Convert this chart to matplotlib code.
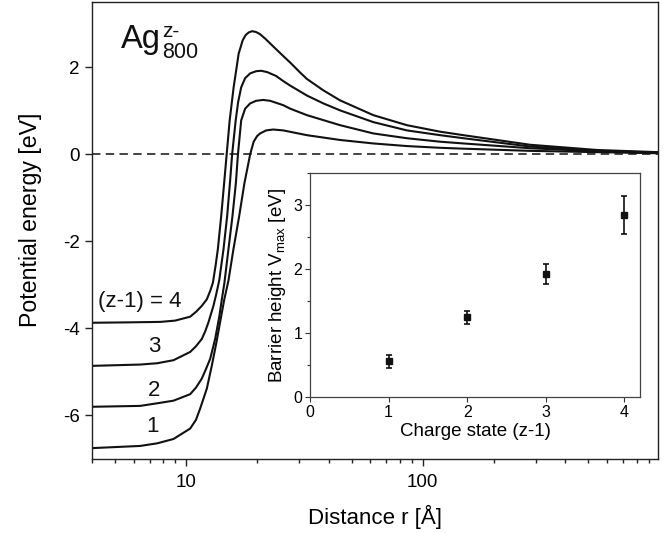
import matplotlib
matplotlib.use("Agg")
import matplotlib.pyplot as plt
from matplotlib.ticker import LogLocator, NullFormatter, MultipleLocator, FixedLocator

plt.rcParams['font.family'] = ['Liberation Sans', 'DejaVu Sans']
plt.rcParams['mathtext.fontset'] = 'custom'
plt.rcParams['mathtext.rm'] = 'Liberation Sans'
plt.rcParams['mathtext.it'] = 'Liberation Sans:italic'
plt.rcParams['mathtext.bf'] = 'Liberation Sans:bold'

# ---- main curves: distance r [A] and potential energy [eV] ----
r_q4 = [4.0, 5.8, 7.77, 8.99, 10.4, 11.0, 11.65, 12.23, 12.63, 12.97, 13.32, 13.61, 14.06,
        14.47, 14.83, 15.27, 15.87, 16.34, 16.66, 17.33, 17.84, 18.37, 19.0, 19.75, 20.53,
        21.56, 23.32, 25.7, 27.5, 30.3, 32.4, 35.1, 38.0, 44.7, 61.8, 85.6, 118.4, 148.5,
        284, 545, 986]
V_q4 = [-3.87, -3.86, -3.85, -3.82, -3.73, -3.62, -3.48, -3.33, -3.14, -2.95, -2.55, -2.18,
        -1.42, -0.66, 0.0, 0.78, 1.54, 2.0, 2.31, 2.62, 2.74, 2.80, 2.83, 2.81, 2.76, 2.66,
        2.48, 2.26, 2.11, 1.88, 1.73, 1.60, 1.47, 1.24, 0.90, 0.67, 0.52, 0.44, 0.22, 0.10, 0.05]

r_q3 = [4.0, 6.39, 7.54, 8.84, 10.4, 11.0, 11.65, 12.03, 12.42, 13.04, 13.39, 13.79, 14.38,
        14.90, 15.34, 15.64, 16.19, 16.58, 17.08, 17.75, 18.64, 19.75, 20.74, 21.99, 24.0,
        25.77, 27.5, 32.4, 38.0, 44.7, 61.8, 85.6, 118.4, 148.5, 284, 545, 986]
V_q3 = [-4.86, -4.83, -4.80, -4.73, -4.54, -4.41, -4.24, -4.07, -3.86, -3.48, -3.22, -2.90,
        -2.18, -1.42, -0.60, 0.0, 0.78, 1.20, 1.54, 1.75, 1.86, 1.91, 1.92, 1.89, 1.80, 1.68,
        1.58, 1.35, 1.17, 1.01, 0.74, 0.55, 0.44, 0.37, 0.18, 0.08, 0.04]

r_q2 = [4.0, 6.39, 7.54, 8.84, 10.4, 11.0, 11.65, 12.15, 12.63, 13.26, 13.82, 14.15, 14.51,
        15.09, 15.69, 16.22, 16.55, 17.08, 17.75, 18.64, 19.75, 21.15, 22.64, 25.7, 27.5,
        32.4, 44.7, 61.8, 85.6, 118.4, 148.5, 284, 545, 986]
V_q2 = [-5.80, -5.78, -5.72, -5.66, -5.51, -5.36, -5.15, -4.92, -4.70, -4.24, -3.71, -3.33,
        -2.95, -2.18, -1.42, -0.66, 0.0, 0.78, 1.05, 1.17, 1.23, 1.25, 1.23, 1.13, 1.05, 0.90,
        0.67, 0.48, 0.37, 0.29, 0.25, 0.14, 0.07, 0.035]

r_q1 = [4.0, 6.39, 7.54, 8.84, 10.4, 11.0, 11.46, 12.23, 12.84, 13.39, 13.92, 14.47, 15.09,
        15.84, 16.75, 17.63, 18.64, 19.28, 19.95, 20.53, 21.78, 23.32, 25.7, 32.4, 44.7, 61.8,
        85.6, 118.4, 148.5, 284, 545, 986]
V_q1 = [-6.75, -6.70, -6.64, -6.54, -6.30, -6.10, -5.84, -5.38, -4.85, -4.35, -3.85, -3.35,
        -2.90, -2.18, -1.42, -0.66, 0.0, 0.29, 0.42, 0.48, 0.55, 0.57, 0.55, 0.44, 0.33, 0.25,
        0.19, 0.15, 0.13, 0.08, 0.05, 0.025]

curve_labels = ["(z-1) = 4", "3", "2", "1"]
label_r = [6.39, 7.32, 7.32, 7.2]
label_V = [-3.39, -4.41, -5.42, -6.26]

# ---- inset: barrier height vs charge state ----
charge_state = [1, 2, 3, 4]
barrier = [0.56, 1.25, 1.93, 2.85]
barrier_err = [0.105, 0.105, 0.155, 0.30]

W, H = 664, 533
fig = plt.figure(figsize=(W / 100, H / 100), dpi=100)

ax = fig.add_axes([92 / W, 1 - 459 / H, 566 / W, 457 / H])
for r, V in [(r_q4, V_q4), (r_q3, V_q3), (r_q2, V_q2), (r_q1, V_q1)]:
    ax.plot(r, V, color='#111111', lw=1.5, solid_joinstyle='round')
ax.axhline(0, color='#111111', lw=1.1, linestyle=(0, (5.5, 3.5)))

ax.set_xscale('log')
ax.set_xlim(4, 986)
ax.set_ylim(-7, 3.5)
ax.xaxis.set_major_locator(FixedLocator([10, 100]))
ax.set_xticklabels(['10', '100'])
ax.xaxis.set_minor_locator(LogLocator(base=10, subs=[2, 3, 4, 5, 6, 7, 8, 9]))
ax.xaxis.set_minor_formatter(NullFormatter())
ax.set_yticks([-6, -4, -2, 0, 2])
ax.set_yticklabels(['-6', '-4', '-2', '0', '2'])
ax.tick_params(axis='both', which='major', direction='out', length=5, width=1.0,
               labelsize=13.5, top=False, right=False, color='#222222')
ax.tick_params(axis='x', which='minor', direction='out', length=3, width=1.0,
               top=False, color='#222222')
ax.tick_params(axis='x', which='major', pad=6)
ax.tick_params(axis='y', which='major', pad=4)
for s in ax.spines.values():
    s.set_linewidth(1.0)
    s.set_color('#222222')

ax.set_xlabel('Distance r [Å]', fontsize=16, labelpad=10)
ax.set_ylabel('Potential energy [eV]', fontsize=16.7)
ax.yaxis.set_label_coords(-0.088, 0.523)

for t, xr, yv in zip(curve_labels, label_r, label_V):
    ax.text(xr, yv, t, fontsize=16, ha='center', va='center', color='#111111')

ax.text(0.0507, 0.8987, 'Ag', transform=ax.transAxes, fontsize=23.5, ha='left',
        va='baseline', color='#111111')
ax.text(0.1237, 0.924, 'z-', transform=ax.transAxes, fontsize=15, ha='left',
        va='baseline', color='#111111')
ax.text(0.1237, 0.8768, '800', transform=ax.transAxes, fontsize=15.5, ha='left',
        va='baseline', color='#111111')

# inset
ax2 = fig.add_axes([310 / W, 1 - 397.3 / H, 330 / W, 224 / H])
ax2.set_facecolor('white')
ax2.errorbar(charge_state, barrier, yerr=barrier_err, fmt='s', color='#111111',
             ms=3.8, capsize=2.5, elinewidth=1.2, capthick=1.2)
ax2.set_xlim(0, 4.2)
ax2.set_ylim(0, 3.5)
ax2.set_xticks([0, 1, 2, 3, 4])
ax2.set_yticks([0, 1, 2, 3])
ax2.yaxis.set_minor_locator(MultipleLocator(0.5))
ax2.tick_params(axis='both', which='major', direction='out', length=3.5, width=0.8,
                labelsize=11.5, pad=2, color='#333333')
ax2.tick_params(axis='y', which='minor', direction='out', length=2, width=0.8,
                color='#333333')
for s in ax2.spines.values():
    s.set_linewidth(0.9)
    s.set_color('#444444')
ax2.set_xlabel('Charge state (z-1)', fontsize=13.5, labelpad=2)
ax2.set_ylabel(r'Barrier height V$_{\mathrm{max}}$ [eV]', fontsize=13.5, labelpad=4)

fig.savefig('out.png', dpi=100)
